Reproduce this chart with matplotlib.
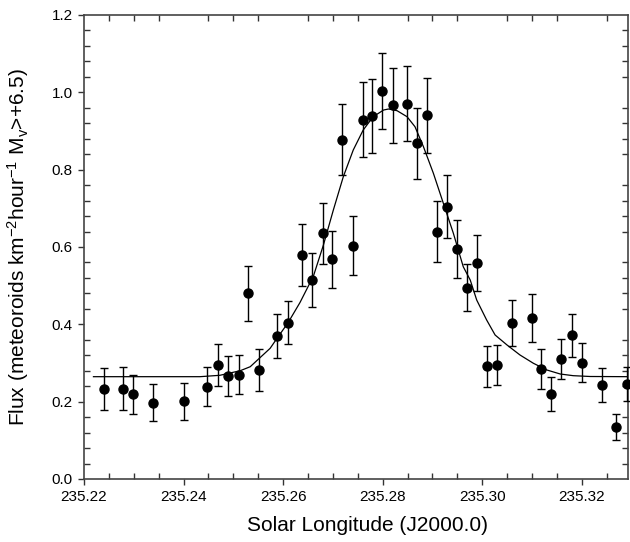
import matplotlib
matplotlib.use("Agg")
import matplotlib.pyplot as plt
from matplotlib.ticker import MultipleLocator, FormatStrFormatter

plt.rcParams['font.family'] = ['Liberation Sans', 'DejaVu Sans']
plt.rcParams['mathtext.fontset'] = 'custom'
plt.rcParams['mathtext.rm'] = 'Liberation Sans'
plt.rcParams['mathtext.it'] = 'Liberation Sans'

# Observed flux points
sol_long = [235.2240, 235.2279, 235.2299, 235.2339, 235.2401, 235.2448, 235.2469,
            235.2490, 235.2511, 235.2529, 235.2551, 235.2587, 235.2610, 235.2639,
            235.2659, 235.2681, 235.2698, 235.2719, 235.2740, 235.2760, 235.2779,
            235.2799, 235.2820, 235.2849, 235.2869, 235.2889, 235.2910, 235.2930,
            235.2949, 235.2969, 235.2990, 235.3009, 235.3029, 235.3059, 235.3100,
            235.3119, 235.3139, 235.3159, 235.3180, 235.3200, 235.3240, 235.3269,
            235.3290]
flux = [0.233, 0.234, 0.219, 0.197, 0.201, 0.239, 0.295, 0.266, 0.270, 0.480,
        0.281, 0.370, 0.404, 0.579, 0.515, 0.635, 0.568, 0.878, 0.603, 0.929,
        0.938, 1.003, 0.966, 0.971, 0.868, 0.941, 0.639, 0.704, 0.595, 0.495,
        0.559, 0.292, 0.295, 0.403, 0.416, 0.285, 0.219, 0.310, 0.372, 0.301,
        0.242, 0.134, 0.245]
flux_err = [0.054, 0.055, 0.050, 0.048, 0.048, 0.050, 0.055, 0.052, 0.050, 0.072,
            0.054, 0.058, 0.056, 0.080, 0.070, 0.078, 0.074, 0.093, 0.076, 0.097,
            0.096, 0.099, 0.097, 0.097, 0.092, 0.097, 0.079, 0.082, 0.076, 0.060,
            0.072, 0.053, 0.052, 0.060, 0.062, 0.051, 0.044, 0.052, 0.056, 0.051,
            0.044, 0.033, 0.044]

# Fitted profile
fit_x = [235.2219, 235.2433, 235.2473, 235.2514, 235.2534, 235.2554, 235.2574,
         235.2589, 235.2610, 235.2634, 235.2661, 235.2681, 235.2701, 235.2721,
         235.2741, 235.2761, 235.2781, 235.2802, 235.2812, 235.2829, 235.2849,
         235.2865, 235.2882, 235.2902, 235.2922, 235.2942, 235.2962, 235.2976,
         235.2989, 235.3009, 235.3026, 235.3050, 235.3076, 235.3103, 235.3130,
         235.3157, 235.3183, 235.3217, 235.3297]
fit_y = [0.2646, 0.2646, 0.2682, 0.2801, 0.2904, 0.3142, 0.3380, 0.3660, 0.4042,
         0.4565, 0.5250, 0.6050, 0.6957, 0.7818, 0.8509, 0.9026, 0.9370, 0.9543,
         0.9569, 0.9525, 0.9370, 0.9111, 0.8594, 0.7906, 0.7130, 0.6360, 0.5490,
         0.5146, 0.4629, 0.4112, 0.3724, 0.3465, 0.3207, 0.2992, 0.2819, 0.2715,
         0.2672, 0.2651, 0.2646]

x_ticks = [235.22, 235.24, 235.26, 235.28, 235.30, 235.32]
y_ticks = [0.0, 0.2, 0.4, 0.6, 0.8, 1.0, 1.2]

fig = plt.figure(figsize=(6.3, 5.42), dpi=100)
ax = fig.add_axes([84/630, 1 - 479/542, (628-84)/630, (479-15)/542])

ax.plot(fit_x, fit_y, color='black', lw=0.9, zorder=2)
ax.errorbar(sol_long, flux, yerr=flux_err, fmt='o', color='black', ms=6.5,
            ecolor='black', elinewidth=1.0, capsize=2.6, capthick=1.0,
            zorder=3, clip_on=False)

ax.set_xlim(235.22, 235.3293)
ax.set_ylim(0.0, 1.2)
ax.set_xticks(x_ticks)
ax.set_yticks(y_ticks)
ax.xaxis.set_major_formatter(FormatStrFormatter('%.2f'))
ax.yaxis.set_major_formatter(FormatStrFormatter('%.1f'))
ax.xaxis.set_minor_locator(MultipleLocator(0.005))
ax.yaxis.set_minor_locator(MultipleLocator(0.04))

ax.tick_params(which='major', direction='out', length=4, width=1, color='#333333',
               labelsize=11, top=False, right=False, pad=4)
ax.tick_params(which='minor', direction='in', length=4, width=1, color='#333333',
               top=True, right=True, bottom=True, left=True)
for s in ax.spines.values():
    s.set_linewidth(1.2)
    s.set_color('#444444')

ax.set_xlabel('Solar Longitude (J2000.0)', fontsize=15)
ax.set_ylabel(r'Flux (meteoroids km$^{-2}$hour$^{-1}$ M$_{\rm v}$>+6.5)', fontsize=15)
ax.xaxis.set_label_coords(0.522, -0.080)
ax.yaxis.set_label_coords(-0.098, 0.5)

fig.savefig('out.png', dpi=100)
